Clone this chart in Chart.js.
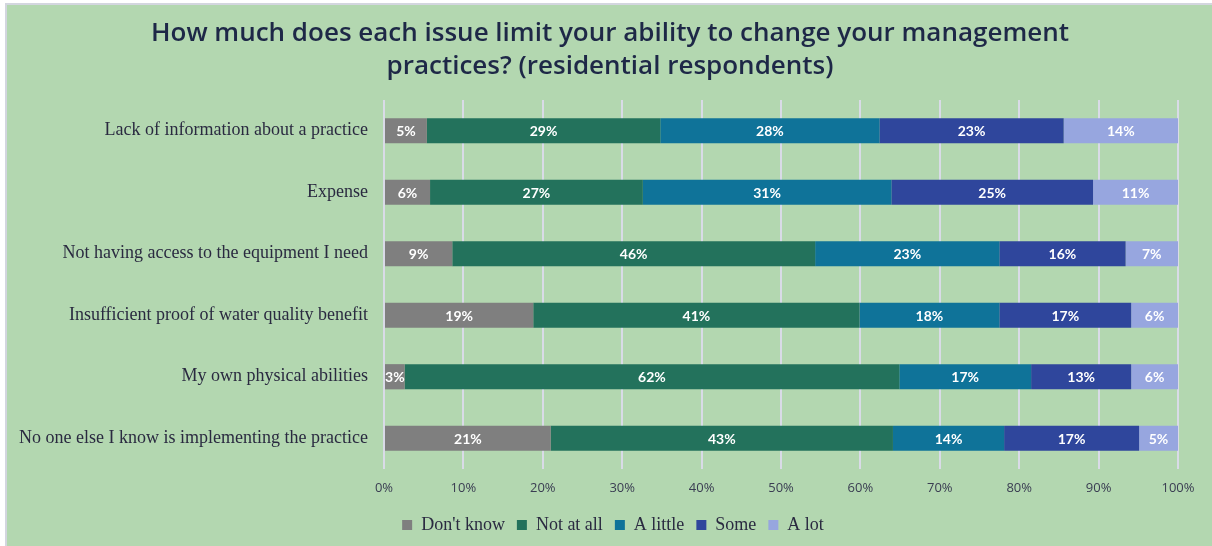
<!DOCTYPE html>
<html>
<head>
<meta charset="utf-8">
<script src="https://cdn.jsdelivr.net/npm/chart.js@4.4.1/dist/chart.umd.min.js"></script>
<style>
  html, body { margin: 0; padding: 0; background: #ffffff; width: 1212px; height: 546px; overflow: hidden; }
  #frame { position: absolute; left: 5px; top: 3px; width: 1220px; height: 560px; background: #b3d7b0; border: 2px solid #d3d6df; }
  #wrap { position: absolute; left: 0; top: 0; width: 1212px; height: 546px; }
</style>
</head>
<body>
<div id="frame"></div>
<div id="wrap"><canvas id="c" width="1212" height="546"></canvas></div>
<script>
const categories = [
  "Lack of information about a practice",
  "Expense",
  "Not having access to the equipment I need",
  "Insufficient proof of water quality benefit",
  "My own physical abilities",
  "No one else I know is implementing the practice"
];
const seriesNames = ["Don't know", "Not at all", "A little", "Some", "A lot"];
const dontKnow = [5.4, 5.8, 8.6, 18.8, 2.6, 21.0];
const notAtAll = [29.4, 26.8, 45.7, 41.1, 62.3, 43.1];
const aLittle  = [27.6, 31.3, 23.2, 17.6, 16.6, 14.0];
const some     = [23.2, 25.4, 15.9, 16.6, 12.6, 17.0];
const aLot     = [14.4, 10.7, 6.6, 5.9, 5.9, 4.9];
const xTicks = [0, 10, 20, 30, 40, 50, 60, 70, 80, 90, 100];
const titleLines = ["How much does each issue limit your ability to change your management", "practices? (residential respondents)"];
const colors = ["#7f7f7f", "#23725c", "#0f7399", "#2f469c", "#97a6df"];

const seriesValues = [dontKnow, notAtAll, aLittle, some, aLot];

const titlePlugin = {
  id: 'titleText',
  afterDraw(chart) {
    const ctx = chart.ctx;
    ctx.save();
    ctx.font = "600 26px 'Open Sans', sans-serif";
    ctx.fillStyle = "#1e2847";
    ctx.textAlign = "center";
    ctx.textBaseline = "middle";
    ctx.fillText(titleLines[0], 610, 34);
    ctx.fillText(titleLines[1], 610, 67);
    ctx.restore();
  }
};

const barLabels = {
  id: 'barLabels',
  afterDatasetsDraw(chart) {
    const ctx = chart.ctx;
    ctx.save();
    ctx.font = "bold 14px Lato, 'Open Sans', sans-serif";
    ctx.fillStyle = "#ffffff";
    ctx.textAlign = "center";
    ctx.textBaseline = "middle";
    chart.data.datasets.forEach((ds, di) => {
      const meta = chart.getDatasetMeta(di);
      meta.data.forEach((el, i) => {
        const p = el.getProps(['x', 'base', 'y'], true);
        const cx = (p.x + p.base) / 2;
        ctx.fillText(Math.round(ds.data[i]) + "%", cx, p.y + 1);
      });
    });
    ctx.restore();
  }
};

const PAD_L = 16, PAD_R = 2;

new Chart(document.getElementById('c'), {
  type: 'bar',
  data: {
    labels: categories,
    datasets: seriesNames.map((n, k) => ({
      label: n,
      data: seriesValues[k],
      backgroundColor: colors[k],
      borderWidth: 0,
      barPercentage: 0.41,
      categoryPercentage: 1.0
    }))
  },
  options: {
    indexAxis: 'y',
    responsive: false,
    animation: false,
    devicePixelRatio: 1,
    layout: { padding: { left: PAD_L, right: PAD_R, top: 100, bottom: 2 } },
    plugins: {
      title: { display: false },
      legend: {
        position: 'bottom',
        labels: {
          boxWidth: 10, boxHeight: 10,
          color: "#2a2a40",
          font: { family: "'Liberation Serif', serif", size: 18 },
          padding: 12
        }
      },
      tooltip: { enabled: false }
    },
    scales: {
      x: {
        stacked: true,
        min: 0, max: 100,
        afterBuildTicks(axis) { axis.ticks = xTicks.map(v => ({ value: v })); },
        afterFit(axis) { axis.height = 35; },
        ticks: {
          callback: v => v + "%",
          color: "#3a3d52",
          font: { family: "'Open Sans', sans-serif", size: 13 },
          padding: 11,
          maxRotation: 0
        },
        grid: { color: "#d9dbe7", lineWidth: 2, drawTicks: false },
        border: { display: false }
      },
      y: {
        stacked: true,
        afterFit(axis) { axis.width = 384 - PAD_L; },
        ticks: {
          color: "#2a2a40",
          font: { family: "'Liberation Serif', serif", size: 18 },
          padding: 16
        },
        grid: { display: false, drawTicks: false },
        border: { display: false }
      },
      y2: {
        position: 'right',
        display: true,
        afterFit(axis) { axis.width = 1212 - PAD_R - 1178; },
        ticks: { display: false },
        grid: { display: false, drawTicks: false },
        border: { display: false }
      }
    }
  },
  plugins: [barLabels, titlePlugin]
});
</script>
</body>
</html>
